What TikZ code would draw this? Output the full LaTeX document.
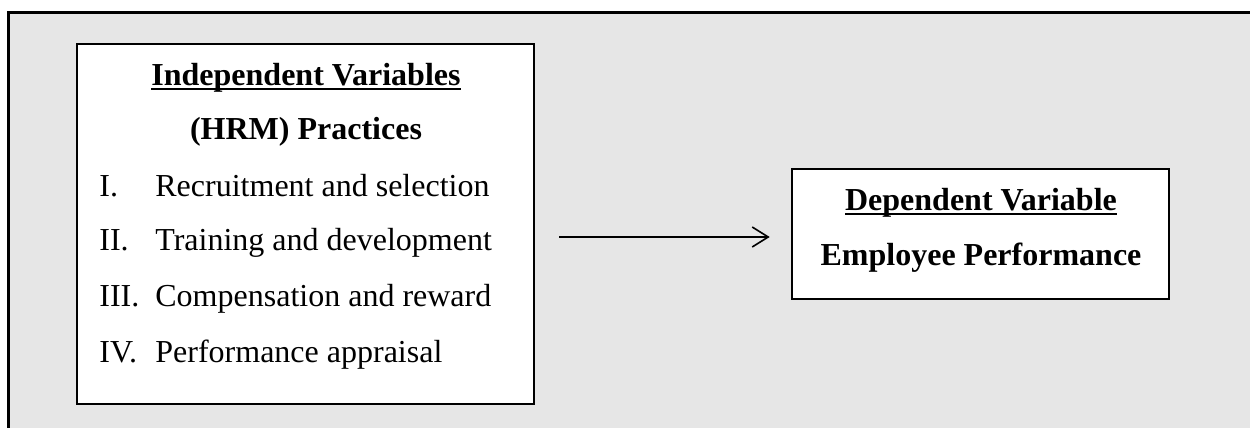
\documentclass[tikz,border=0pt]{standalone}
\usepackage{fontspec}
\setmainfont{Liberation Serif}
\usetikzlibrary{arrows.meta}
\definecolor{panelgray}{HTML}{E6E6E6}
\newsavebox{\headbox}
\newcommand{\ulhead}[1]{\sbox{\headbox}{#1}\rlap{\rule[-2.5pt]{\wd\headbox}{1pt}}\usebox{\headbox}}

\begin{document}
\begin{tikzpicture} [x=0.5pt, y=-0.5pt,
 every node/.style = {font=\fontsize{16}{19}\selectfont, inner sep=0pt},
 varbox/.style = {draw, line width=1.3pt, fill=white, shape=rectangle},
 label/.style = {anchor=base},
 item/.style = {anchor=base west},
 flow/.style = {line width=0.8pt, -{Straight Barb[length=8pt, width=10pt, line width=0.8pt]}}]
 \useasboundingbox (0,0) rectangle (1250,428);
 \fill [panelgray] (8,12) rectangle (1250,428);
 \draw [line width=1.5pt] (8,428) -- (8,12) -- (1250,12);

 % boxes
 \node (indep) [varbox, minimum width=228.5pt, minimum height=180pt] at (305.5,224) {};
 \node (dep) [varbox, minimum width=188.5pt, minimum height=65pt] at (980.5,234) {};

 % left box text
 \node (indeptitle) [label] at (306,85) {\textbf{\ulhead{Independent Variables}}};
 \node (hrm) [label] at (306,140) {\textbf{(HRM) Practices}};
 \node (n1) [item] at (99,196) {I.};
 \node (t1) [item] at (155,196) {Recruitment and selection};
 \node (n2) [item] at (99,250) {II.};
 \node (t2) [item] at (155,250) {Training and development};
 \node (n3) [item] at (99,306) {III.};
 \node (t3) [item] at (155,306) {Compensation and reward};
 \node (n4) [item] at (99,362) {IV.};
 \node (t4) [item] at (155,362) {Performance appraisal};

 % right box text
 \node (deptitle) [label] at (981,210) {\textbf{\ulhead{Dependent Variable}}};
 \node (perf) [label] at (981,265) {\textbf{Employee Performance}};

 \draw [flow, shorten <=12pt, shorten >=10.5pt]
 ([yshift=-1.5pt]indep.east |- dep.west) -- ([yshift=-1.5pt]dep.west);
\end{tikzpicture}
\end{document}
